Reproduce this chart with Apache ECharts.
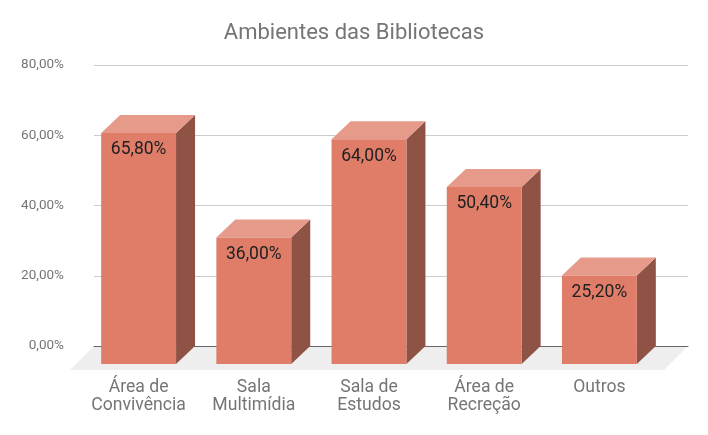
<!DOCTYPE html>
<html>
<head>
<meta charset="utf-8">
<style>html,body{margin:0;padding:0;background:#fff}#c{width:708px;height:435px}</style>
<script src="https://cdn.jsdelivr.net/npm/echarts@6/dist/echarts.min.js"></script>
</head>
<body>
<div id="c"></div>
<script>
const titleText = 'Ambientes das Bibliotecas';
const categories = ['Área de\nConvivência', 'Sala\nMultimídia', 'Sala de\nEstudos', 'Área de\nRecreção', 'Outros'];
const values = [65.8, 36, 64, 50.4, 25.2];
const DEPTH_X = 19, DEPTH_Y = 18;
const FLOOR_EXTRA = 24;
const fmt = v => v.toFixed(2).replace('.', ',') + '%';

const chart = echarts.init(document.getElementById('c'));

function renderFloor(params, api) {
  const y0 = api.coord([0, 0])[1];
  const cs = params.coordSys;
  const l = cs.x, r = cs.x + cs.width;
  return {
    type: 'polygon',
    shape: { points: [[l, y0], [r, y0], [r - FLOOR_EXTRA, y0 + FLOOR_EXTRA], [l - FLOOR_EXTRA, y0 + FLOOR_EXTRA]] },
    style: { fill: '#eeeeee' }
  };
}

function renderBar(params, api) {
  const idx = api.value(0);
  const val = api.value(1);
  const top = api.coord([idx, val]);
  const base = api.coord([idx, 0]);
  const w = api.size([1, 0])[0] * 0.65;
  const xl = top[0] - w / 2, xr = top[0] + w / 2;
  const yt = top[1] + DEPTH_Y, yb = base[1] + DEPTH_Y;
  return {
    type: 'group',
    children: [
      { type: 'polygon', shape: { points: [[xr, yt], [xr + DEPTH_X, yt - DEPTH_Y], [xr + DEPTH_X, yb - DEPTH_Y], [xr, yb]] },
        style: { fill: '#8f5346' } },
      { type: 'polygon', shape: { points: [[xl, yt], [xl + DEPTH_X, yt - DEPTH_Y], [xr + DEPTH_X, yt - DEPTH_Y], [xr, yt]] },
        style: { fill: '#e59a8a' } },
      { type: 'rect', shape: { x: xl, y: yt, width: w, height: yb - yt },
        style: { fill: '#df7d69' } },
      { type: 'text', x: top[0], y: yt + 17,
        style: { text: fmt(val), fill: '#212121', font: '17.5px Roboto', align: 'center', verticalAlign: 'middle' } }
    ]
  };
}

chart.setOption({
  animation: false,
  backgroundColor: '#fff',
  title: {
    text: titleText, left: 349, top: 17, textAlign: 'center',
    textStyle: { fontFamily: 'Roboto', fontSize: 22, fontWeight: 'normal', color: '#757575' }
  },
  grid: [
    { left: 94, width: 594, top: 65, height: 281 },
    { left: 81, width: 576, top: 65, height: 281 }
  ],
  xAxis: [
    { type: 'category', gridIndex: 0, data: categories, z: 3,
      axisLabel: { show: false }, axisTick: { show: false },
      axisLine: { show: true, onZero: true, lineStyle: { color: '#666666', width: 1 } } },
    { type: 'category', gridIndex: 1, data: categories,
      axisLine: { show: false }, axisTick: { show: false },
      axisLabel: { interval: 0, margin: 33, fontFamily: 'Roboto', fontSize: 17.6, lineHeight: 18, color: '#757575' } }
  ],
  yAxis: [
    { type: 'value', gridIndex: 0, min: 0, max: 80, interval: 20,
      axisLine: { show: false }, axisTick: { show: false },
      axisLabel: { margin: 30, fontFamily: 'Roboto', fontSize: 13.5, color: '#757575', padding: [2, 0, 0, 0], formatter: v => fmt(v) },
      splitLine: { lineStyle: { color: '#cccccc', width: 1 } } },
    { type: 'value', gridIndex: 1, min: 0, max: 80, interval: 20, show: false, splitLine: { show: false } }
  ],
  series: [
    { type: 'custom', xAxisIndex: 0, yAxisIndex: 0, coordinateSystem: 'cartesian2d', z: 1, silent: true,
      renderItem: renderFloor, data: [[0, 0]] },
    { type: 'custom', xAxisIndex: 1, yAxisIndex: 1, coordinateSystem: 'cartesian2d', z: 5,
      renderItem: renderBar, data: values.map((v, i) => [i, v]) }
  ]
});
</script>
</body>
</html>
